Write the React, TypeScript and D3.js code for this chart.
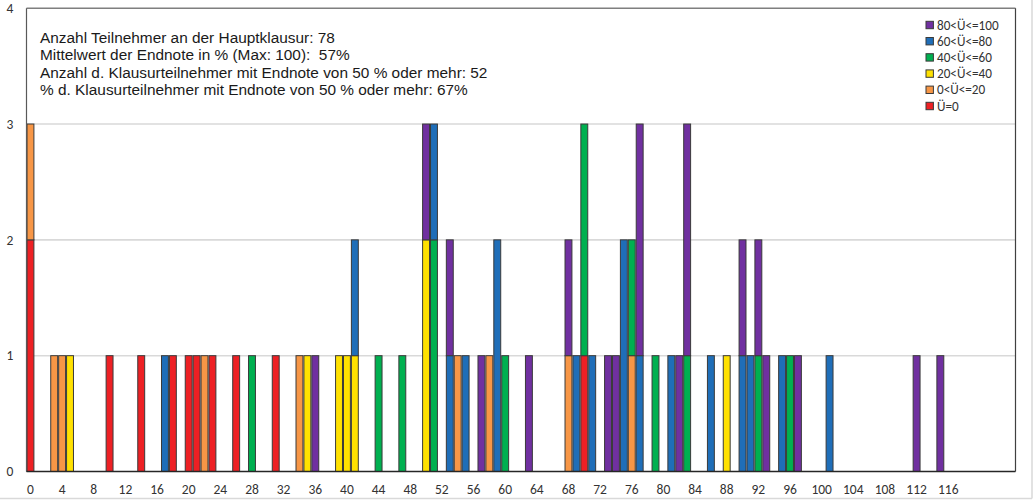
import React from "react";
import * as d3 from "d3";

// Categories: score values on the x axis
const scores: number[] = d3.range(0, 125);
const tickLabels: number[] = [0, 4, 8, 12, 16, 20, 24, 28, 32, 36, 40, 44, 48, 52, 56, 60, 64, 68, 72, 76, 80, 84, 88, 92, 96, 100, 104, 108, 112, 116];
const yTicks: number[] = [0, 1, 2, 3, 4];

// Series: [score, count]
const seriesU0: [number, number][] = [[0, 2], [10, 1], [14, 1], [18, 1], [20, 1], [21, 1], [23, 1], [26, 1], [31, 1], [70, 1]];
const series0to20: [number, number][] = [[0, 1], [3, 1], [4, 1], [22, 1], [34, 1], [54, 1], [58, 1], [68, 1], [76, 1]];
const series20to40: [number, number][] = [[5, 1], [35, 1], [39, 1], [40, 1], [41, 1], [50, 2], [88, 1]];
const series40to60: [number, number][] = [[28, 1], [44, 1], [47, 1], [51, 2], [60, 1], [70, 2], [76, 1], [79, 1], [83, 1], [92, 1], [96, 1]];
const series60to80: [number, number][] = [[17, 1], [41, 1], [51, 1], [53, 1], [55, 1], [59, 2], [69, 1], [71, 1], [75, 2], [77, 1], [81, 1], [86, 1], [90, 1], [91, 1], [95, 1], [101, 1]];
const series80to100: [number, number][] = [[36, 1], [50, 1], [53, 1], [57, 1], [63, 1], [68, 1], [73, 1], [74, 1], [77, 2], [82, 1], [83, 2], [90, 1], [92, 1], [93, 1], [97, 1], [112, 1], [115, 1]];

const seriesNames = ["Ü=0", "0<Ü<=20", "20<Ü<=40", "40<Ü<=60", "60<Ü<=80", "80<Ü<=100"];
const seriesColors = ["#ED2024", "#F79646", "#FFE100", "#00B050", "#1F6EB8", "#7030A0"];
const seriesData = [seriesU0, series0to20, series20to40, series40to60, series60to80, series80to100];

const infoLines = [
  "Anzahl Teilnehmer an der Hauptklausur: 78",
  "Mittelwert der Endnote in % (Max: 100):  57%",
  "Anzahl d. Klausurteilnehmer mit Endnote von 50 % oder mehr: 52",
  "% d. Klausurteilnehmer mit Endnote von 50 % oder mehr: 67%",
];

const W = 1035;
const H = 502;
const left = 26.5;
const right = 1015.5;
const top = 8.2;
const bottom = 471.5;

export default function App() {
  const x = d3.scaleBand<number>().domain(scores).range([left, right]).padding(0);
  const y = d3.scaleLinear().domain([0, 4]).range([bottom, top]);

  const table = scores.map((s) => {
    const row: Record<string, number> = { score: s };
    seriesNames.forEach((n, i) => {
      const f = seriesData[i].find((p) => p[0] === s);
      row[n] = f ? f[1] : 0;
    });
    return row;
  });
  const stacked = d3.stack<Record<string, number>>().keys(seriesNames)(table);
  const bw = x.bandwidth();

  const labelFont = "Calibri, Carlito, Lato, sans-serif";

  return (
    <svg width={W} height={H} style={{ position: "absolute", left: 0, top: 0 }}>
      <rect x={0} y={0} width={W} height={H} fill="#fff" />
      {/* outer chart border */}
      <line x1={0} x2={1032} y1={498.5} y2={498.5} stroke="#d9d9d9" strokeWidth={1.5} />
      <line x1={1032} x2={1032} y1={0} y2={498.5} stroke="#d9d9d9" strokeWidth={1.5} />

      {/* gridlines */}
      {yTicks.filter((t) => t > 0 && t < 4).map((t) => (
        <line key={t} x1={left} x2={right} y1={y(t)} y2={y(t)} stroke="#d9d9d9" strokeWidth={1.6} />
      ))}

      {/* bars */}
      {stacked.map((layer, i) => (
        <g key={layer.key} fill={seriesColors[i]} stroke="#3a3a3a" strokeWidth={1}>
          {layer.filter((d) => d[1] - d[0] > 0).map((d) => (
            <rect key={d.data.score} x={(x(d.data.score) as number) + 0.5} y={y(d[1])} width={bw - 1} height={y(d[0]) - y(d[1])} />
          ))}
        </g>
      ))}

      {/* frame */}
      <line x1={left} x2={right} y1={top} y2={top} stroke="#7f7f7f" strokeWidth={1.5} />
      <line x1={left} x2={left} y1={top} y2={bottom} stroke="#595959" strokeWidth={1.2} />
      <line x1={right} x2={right} y1={top} y2={bottom} stroke="#404040" strokeWidth={1.2} />
      <line x1={left} x2={right} y1={bottom} y2={bottom} stroke="#262626" strokeWidth={1.5} />

      {/* y labels */}
      {yTicks.map((t) => (
        <text key={t} x={10} y={y(t)} dy="0.35em" textAnchor="middle" fontFamily={labelFont} fontSize={13.5} fill="#333">
          {t}
        </text>
      ))}

      {/* x labels */}
      {tickLabels.map((t) => (
        <text key={t} x={(x(t) as number) + bw / 2} y={489} dy="0.35em" textAnchor="middle" fontFamily={labelFont} fontSize={13.5} fill="#333">
          {t}
        </text>
      ))}

      {/* info text */}
      {infoLines.map((l, i) => (
        <text key={i} x={40} y={42.5 + i * 17.6} fontFamily="'Liberation Sans', Arial, sans-serif" fontSize={15.4} fill="#1a1a1a" style={{ whiteSpace: "pre" }}>
          {l}
        </text>
      ))}

      {/* legend */}
      {seriesNames.slice().reverse().map((n, i) => {
        const ci = seriesNames.length - 1 - i;
        const cy = 25 + i * 16.2;
        return (
          <g key={n}>
            <rect x={926} y={cy - 3.7} width={7.4} height={7.4} fill={seriesColors[ci]} stroke="#3a3a3a" strokeWidth={1} />
            <text x={937} y={cy} dy="0.35em" fontFamily={labelFont} fontSize={13.2} fill="#333">
              {n}
            </text>
          </g>
        );
      })}
    </svg>
  );
}
